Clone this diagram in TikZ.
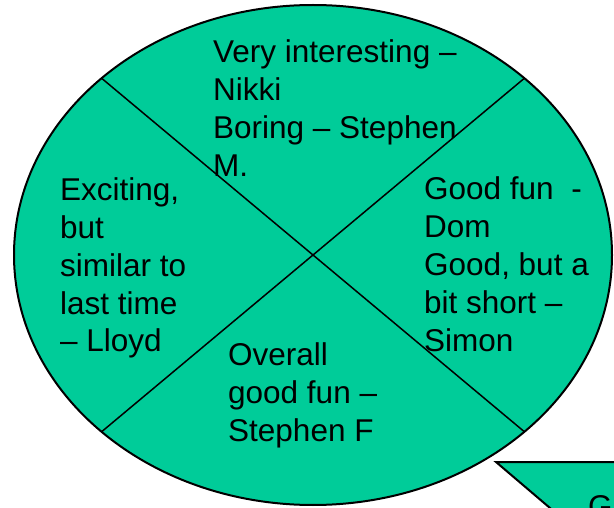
\documentclass[tikz,border=0pt]{standalone}
\usepackage{fontspec}
\setmainfont{Liberation Sans}
\definecolor{verdeacqua}{RGB}{0,204,153}
\tikzset{
  commento/.style={anchor=base west, inner sep=0pt, align=left,
    font=\fontsize{31.5}{38}\selectfont},
  bordo/.style={draw=black, fill=verdeacqua, line width=2pt},
}
\begin{document}
\begin{tikzpicture}[x=1pt, y=-1pt]
        % Area of the picture
        \useasboundingbox (0,0) rectangle (614,508);
        \clip (0,0) rectangle (614,508);

        % The big bubble
        \coordinate (centro) at (313,255);
        \filldraw[bordo] (centro) ellipse [x radius=299, y radius=250];

        % Points on the border for the two diagonals
        \path (centro) ++(135:299 and 250) coordinate (no);
        \path (centro) ++(45:299 and 250) coordinate (ne);
        \path (centro) ++(225:299 and 250) coordinate (so);
        \path (centro) ++(315:299 and 250) coordinate (se);
        \draw[line width=1.5pt] (no) -- (se);
        \draw[line width=1.5pt] (ne) -- (so);

        % Second bubble, cut by the edge
        \filldraw[bordo] (496,462) -- (660,462) -- (660,560) -- (611,560) -- cycle;

        % Comments in the four parts (placed by the last line)
        \node[commento] (nikki) at (213,177) {Very interesting --\\Nikki\\Boring -- Stephen\\M.};
        \node[commento] (lloyd) at (60,352) {Exciting,\\but\\similar to\\last time\\-- Lloyd};
        \node[commento] (dom) at (424,351) {Good fun\ \ -\\Dom\\Good, but a\\bit short --\\Simon};
        \node[commento] (stephenf) at (228,441) {Overall\\good fun --\\Stephen F};
        \node[commento] (g) at (588,517) {G};
\end{tikzpicture}
\end{document}
